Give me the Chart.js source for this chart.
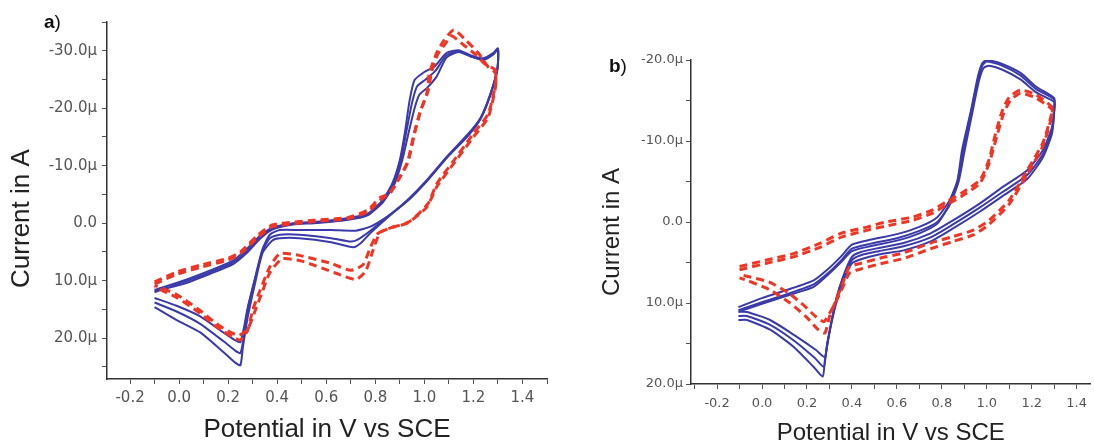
<!DOCTYPE html>
<html>
<head>
<meta charset="utf-8">
<script src="https://cdn.jsdelivr.net/npm/chart.js@4.4.1/dist/chart.umd.min.js"></script>
<style>
  html, body { margin: 0; padding: 0; background: #fff; overflow: hidden; }
  body { width: 1094px; height: 445px; position: relative; font-family: "Liberation Sans", Arial, sans-serif; }
  .panel { position: absolute; top: 0; }
  .tag { position: absolute; font-size: 19px; color: #111; }
</style>
</head>
<body>
<div class="panel" style="left:0px"><canvas id="chartA" width="560" height="445"></canvas></div>
<div class="panel" style="left:570px"><canvas id="chartB" width="524" height="445"></canvas></div>
<div class="tag" style="left:44px;top:11px"><b>a</b>)</div>
<div class="tag" style="left:609px;top:55px"><b>b</b>)</div>
<script>
// potential (V vs SCE), current (µA) pairs
// panel a
var aBlue1 = [[-0.1,12],[0.016,10.3],[0.127,8.5],[0.22,6.8],[0.28,4.7],[0.33,2.4],[0.38,0.9],[0.47,0],[0.55,-0.2],[0.69,-0.9],[0.77,-1.7],[0.83,-4],[0.87,-7],[0.9,-11],[0.92,-15.6],[0.94,-21.4],[0.96,-24.9],[1.0,-26.3],[1.04,-27.2],[1.09,-29.6],[1.14,-30.1],[1.19,-29.2],[1.24,-28.7],[1.28,-29.6],[1.3,-30.4],
  [1.298,-27],[1.27,-22.6],[1.23,-18.4],[1.18,-15.6],[1.09,-11.5],[1.01,-7.5],[0.93,-4],[0.85,-1],[0.78,1.7],[0.74,3.5],[0.71,4.2],[0.62,3.3],[0.49,2.6],[0.41,2.6],[0.38,3],[0.34,5.2],[0.31,10.4],[0.28,16.3],[0.26,21.6],[0.25,24.7],[0.23,24.3],[0.18,22.4],[0.086,19],[-0.008,16.9],[-0.1,14.6]];
var aBlue2 = [[-0.1,11.6],[0.016,10],[0.127,8.2],[0.22,6.5],[0.28,4.3],[0.33,2.2],[0.38,0.8],[0.47,0],[0.55,-0.1],[0.69,-0.7],[0.77,-1.5],[0.83,-3.6],[0.88,-7],[0.91,-11],[0.935,-15.6],[0.96,-20],[0.98,-22.4],[1.01,-23.5],[1.05,-25.5],[1.09,-28.8],[1.14,-29.8],[1.19,-29],[1.24,-28.4],[1.28,-29.3],[1.3,-30.2],
  [1.298,-26.8],[1.27,-22.4],[1.23,-18.2],[1.18,-15.3],[1.09,-11.3],[1.01,-7.3],[0.93,-3.8],[0.85,-1.2],[0.78,0.6],[0.72,1.3],[0.62,1.2],[0.49,1.2],[0.41,1.2],[0.37,2],[0.34,4.5],[0.31,9.5],[0.28,15],[0.265,19.5],[0.25,22.6],[0.23,22.2],[0.18,20.5],[0.086,17.5],[-0.008,15.4],[-0.1,13.8]];
var aBlue3 = [[-0.1,11.8],[0.016,10.6],[0.127,8.8],[0.22,7.1],[0.28,5],[0.33,2.7],[0.38,1.1],[0.47,0.2],[0.55,0],[0.69,-0.6],[0.77,-1.4],[0.83,-3.8],[0.875,-7],[0.905,-11],[0.925,-15.6],[0.95,-21],[0.97,-23.8],[1.005,-25],[1.045,-26.5],[1.09,-29.2],[1.14,-29.9],[1.19,-29],[1.24,-28.5],[1.28,-29.4],[1.3,-30.3],
  [1.298,-26.9],[1.27,-22.5],[1.23,-18.3],[1.18,-15.4],[1.09,-11.4],[1.01,-7.4],[0.93,-3.9],[0.85,-1.1],[0.78,1.3],[0.73,2.8],[0.7,3.2],[0.62,2.6],[0.49,2],[0.41,2],[0.37,2.6],[0.34,4.8],[0.31,9.6],[0.28,14.6],[0.265,18],[0.25,20.7],[0.23,20.4],[0.18,19],[0.086,16.2],[-0.008,14.4],[-0.1,13]];
var aRed1 = [[-0.1,10.2],[-0.01,8.5],[0.086,7.3],[0.2,6.1],[0.25,5],[0.32,2.1],[0.38,0.3],[0.47,-0.2],[0.55,-0.5],[0.69,-1],[0.77,-2.3],[0.82,-4.5],[0.86,-5.2],[0.9,-8],[0.93,-10.4],[0.955,-15],[0.98,-19],[1.01,-22.6],[1.02,-26],[1.05,-29.6],[1.08,-31.8],[1.12,-33.6],[1.17,-31.8],[1.22,-29.6],[1.26,-27.2],[1.29,-26.1],
  [1.29,-23.7],[1.26,-18.4],[1.2,-15],[1.12,-10.4],[1.05,-6.3],[1.01,-2.8],[0.93,0],[0.87,0.7],[0.81,1.8],[0.78,4.2],[0.75,7.2],[0.7,8.2],[0.62,7],[0.49,5.6],[0.41,5.3],[0.37,7.6],[0.33,11.7],[0.3,15.1],[0.28,18.6],[0.25,20.3],[0.22,19.8],[0.155,18.1],[0.086,15.7],[-0.01,12.9],[-0.1,11.1]];
var aRed2 = [[-0.1,10.6],[-0.01,8.9],[0.086,7.7],[0.2,6.4],[0.25,5.3],[0.32,2.5],[0.38,0.6],[0.47,0.1],[0.55,-0.3],[0.69,-0.8],[0.77,-2],[0.82,-4],[0.865,-5.6],[0.905,-8.4],[0.935,-11],[0.96,-15.6],[0.985,-19.6],[1.015,-23],[1.03,-26.4],[1.055,-29.4],[1.085,-31.2],[1.11,-32.6],[1.16,-31],[1.21,-29.3],[1.25,-27.6],[1.29,-26.6],
  [1.29,-24.2],[1.26,-19],[1.2,-15.6],[1.12,-10.9],[1.05,-6.8],[1.015,-3.4],[0.94,-0.3],[0.88,0.6],[0.82,1.6],[0.79,4.8],[0.76,8.4],[0.72,9.8],[0.64,8.7],[0.5,6.6],[0.42,6.2],[0.37,8.6],[0.335,12.4],[0.305,15.8],[0.28,18.4],[0.245,19.5],[0.21,19],[0.15,17.4],[0.08,15],[-0.01,12.4],[-0.1,10.8]];

// panel b
var bBlue1 = [[-0.105,10.5],[0,9.4],[0.11,8.4],[0.23,7.2],[0.29,5.9],[0.35,4.3],[0.4,2.8],[0.48,2.2],[0.6,1.5],[0.7,0.6],[0.78,-0.6],[0.835,-2.7],[0.87,-5.2],[0.89,-8.9],[0.93,-13.8],[0.96,-17.9],[0.98,-19.6],[1.0,-20],[1.06,-19.6],[1.15,-18.4],[1.22,-16.7],[1.3,-15.3],
  [1.3,-14.2],[1.29,-11.7],[1.25,-8.9],[1.18,-6.4],[1.07,-4.3],[0.97,-2.3],[0.85,-0.2],[0.75,1.4],[0.63,2.6],[0.52,3.2],[0.44,3.7],[0.4,4.3],[0.36,6.8],[0.33,9.6],[0.3,13.7],[0.28,17],[0.27,19.1],[0.23,17.9],[0.14,15.4],[0.036,13.3],[-0.067,12.1],[-0.105,12.1]];
var bBlue2 = [[-0.105,10.9],[0,9.9],[0.11,8.9],[0.23,7.7],[0.29,6.4],[0.35,4.8],[0.4,3.3],[0.48,2.7],[0.6,2],[0.7,1.1],[0.78,0],[0.835,-2.1],[0.875,-5],[0.9,-8.6],[0.935,-13.4],[0.965,-17.4],[0.985,-19],[1.01,-19.3],[1.07,-18.8],[1.15,-17.6],[1.22,-16],[1.3,-14.8],
  [1.3,-13.8],[1.29,-11.3],[1.25,-8.4],[1.18,-5.8],[1.07,-3.7],[0.97,-1.8],[0.85,0.3],[0.75,1.9],[0.63,3],[0.52,3.6],[0.44,4.1],[0.4,4.7],[0.36,7],[0.33,9.5],[0.305,12.8],[0.285,16],[0.275,17.9],[0.235,16.8],[0.14,14.6],[0.036,12.7],[-0.067,11.6],[-0.105,11.6]];
var bBlue3 = [[-0.105,11.1],[0,10.1],[0.11,9.1],[0.23,8],[0.29,6.6],[0.35,5],[0.4,3.6],[0.48,3],[0.6,2.3],[0.7,1.4],[0.78,0.2],[0.835,-2.3],[0.87,-5],[0.895,-8.8],[0.93,-13.6],[0.962,-17.7],[0.982,-19.4],[1.0,-19.8],[1.06,-19.4],[1.15,-18.1],[1.22,-16.4],[1.3,-15.1],
  [1.3,-13.5],[1.29,-10.9],[1.25,-8],[1.18,-5.3],[1.07,-3.2],[0.97,-1.3],[0.85,0.8],[0.75,2.4],[0.63,3.5],[0.52,4],[0.44,4.6],[0.4,5.1],[0.36,7.3],[0.335,9.5],[0.31,12.3],[0.29,15],[0.28,16.7],[0.24,15.8],[0.14,13.9],[0.036,12.1],[-0.067,11.1],[-0.105,11.1]];
var bRed1 = [[-0.1,5.5],[0.02,4.7],[0.14,3.9],[0.26,2.6],[0.35,1.4],[0.47,0.6],[0.55,0],[0.67,-0.6],[0.76,-1.5],[0.82,-2.5],[0.89,-3.6],[0.97,-5.2],[1.01,-7.7],[1.04,-11],[1.07,-13.8],[1.1,-15.4],[1.15,-16.3],[1.22,-15.7],[1.29,-14.2],
  [1.29,-13.5],[1.25,-9.8],[1.18,-6.4],[1.1,-2.7],[1.01,-0.2],[0.94,1],[0.85,1.8],[0.75,2.6],[0.63,3.8],[0.52,4.5],[0.44,5.1],[0.39,5.5],[0.36,7.5],[0.33,9.6],[0.3,11.7],[0.28,13.7],[0.25,13.3],[0.2,11.8],[0.125,10],[0.036,8.4],[-0.067,7.2],[-0.1,6.9]];
var bRed2 = [[-0.1,5.9],[0.02,5.1],[0.14,4.3],[0.26,3.1],[0.35,1.9],[0.47,1],[0.55,0.5],[0.67,-0.2],[0.76,-1.1],[0.82,-2.1],[0.89,-3.2],[0.97,-4.8],[1.01,-7.2],[1.045,-10.6],[1.075,-13.4],[1.105,-15],[1.15,-15.9],[1.22,-15.3],[1.29,-13.9],
  [1.29,-13.1],[1.25,-9.4],[1.18,-5.9],[1.1,-2.2],[1.01,0.3],[0.94,1.6],[0.85,2.4],[0.75,3.3],[0.63,4.5],[0.52,5.2],[0.44,5.8],[0.39,6.3],[0.36,8],[0.33,9.8],[0.3,11.3],[0.275,12.3],[0.24,11.7],[0.19,10.4],[0.12,8.8],[0.03,7.4],[-0.067,6.7],[-0.1,6.5]];

var xTitle = 'Potential in V vs SCE';
var yTitle = 'Current in A';

var BLUE = '#3a3aab';
var RED = '#ef3524';

function pts(arr) { return arr.map(function (p) { return { x: p[0], y: p[1] }; }); }

function blue(arr) {
  return { data: pts(arr), borderColor: BLUE, borderWidth: 2, showLine: true, pointRadius: 0, tension: 0.2, fill: false };
}
function red(arr) {
  return { data: pts(arr), borderColor: RED, borderWidth: 3, borderDash: [8, 5], showLine: true, pointRadius: 0, tension: 0.2, fill: false };
}

function xLabel(v) {
  var k = Math.round(v * 10);
  return k % 2 === 0 ? (k / 10).toFixed(1) : '';
}
function yLabel(v) {
  var k = Math.round(v);
  if (k % 10 !== 0) return '';
  if (k === 0) return '0.0';
  return k.toFixed(1) + '\u00b5';
}

function makeChart(id, datasets, c) {
  return new Chart(document.getElementById(id), {
    type: 'scatter',
    data: { datasets: datasets },
    options: {
      responsive: false,
      animation: false,
      events: [],
      layout: { padding: { left: 0, top: c.top, right: c.right, bottom: 0 } },
      plugins: { legend: { display: false }, tooltip: { enabled: false } },
      scales: {
        x: {
          type: 'linear', position: 'bottom', min: c.xmin, max: c.xmax,
          ticks: { stepSize: 0.1, includeBounds: false, autoSkip: false, maxRotation: 0, padding: c.xpad,
                   color: '#555', font: { family: 'DejaVu Sans', size: c.tick }, callback: xLabel },
          grid: { drawOnChartArea: false, drawTicks: true, tickLength: 5, color: '#555', lineWidth: 1 },
          border: { display: true, color: '#333', width: 1.5 },
          title: { display: true, text: xTitle, color: '#222', padding: { top: 0, bottom: 0 },
                   font: { family: 'Liberation Sans', size: c.title, lineHeight: c.xlh } },
          afterFit: function (s) { s.height = c.xh; }
        },
        y: {
          type: 'linear', reverse: true, min: c.ymin, max: c.ymax,
          ticks: { stepSize: 5, includeBounds: false, autoSkip: false, padding: c.ypad,
                   color: '#555', font: { family: 'DejaVu Sans', size: c.tick }, callback: yLabel },
          grid: { drawOnChartArea: false, drawTicks: true, tickLength: 5, color: '#555', lineWidth: 1 },
          border: { display: true, color: '#333', width: 1.5 },
          title: { display: true, text: c.yText, color: '#222', padding: { top: c.ytpad, bottom: 0 },
                   font: { family: 'Liberation Sans', size: c.title, lineHeight: 1.2 } },
          afterFit: function (s) { s.width = c.yw; }
        }
      }
    }
  });
}

// red drawn on top (first dataset is painted last)
makeChart('chartA', [red(aRed1), red(aRed2), blue(aBlue1), blue(aBlue2), blue(aBlue3)], {
  top: 22, right: 13, xh: 66, yw: 107, xmin: -0.294, xmax: 1.5, ymin: -35, ymax: 27.1,
  tick: 15, title: 26, xlh: 1.2, xpad: 5, ypad: 5, ytpad: 6, yText: yTitle + '     '
});
makeChart('chartB', [red(bRed1), red(bRed2), blue(bBlue1), blue(bBlue2), blue(bBlue3)], {
  top: 60, right: 0, xh: 61, yw: 121, xmin: -0.316, xmax: 1.462, ymin: -20, ymax: 20,
  tick: 13, title: 24, xlh: 1.0, xpad: 7, ypad: 3, ytpad: 28, yText: yTitle + '   '
});
</script>
</body>
</html>
